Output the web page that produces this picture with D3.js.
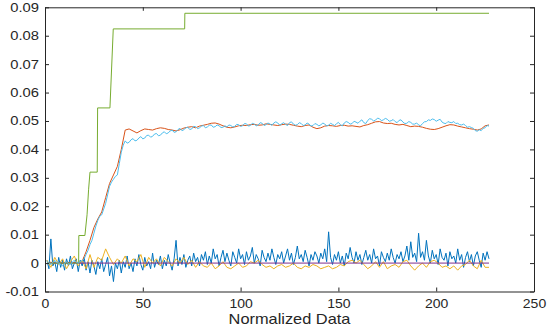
<!DOCTYPE html>
<html>
<head>
<meta charset="utf-8">
<script src="https://cdn.jsdelivr.net/npm/d3@7"></script>
<style>
  body { margin: 0; background: #fff; }
  svg { display: block; }
  text { font-family: "Liberation Sans", Arial, sans-serif; fill: #262626; }
</style>
</head>
<body>
<svg></svg>
<script>
// Values are in thousandths (x 0.001)

// dark blue noisy series, one value per x = 1..227
var blueVals = [
  1, -2, 8.5, -1, 0.5, -3, 2, -1.5, 1, -2.5, 1.5, -1, 2.5, -2, 0, 1.5, -3, 1, -1, 2,
  -2.5, 0.5, -3.5, 1, -1, -4, 0.5, -2, 1.5, -3, -0.5, 2, -4.5, -1, -6.5, 0, -2, 1, -3.5, 0.5,
  -1.5, 2.5, -2, 0, -3, 1.5, -1, 3, -0.5, -2.5, 2, -1, 0.5, -2, 3.5, -1.5, 1, -0.5, 2.5, -2,
  1, -1, 3, 0, -2.5, 1.5, 8, -1, 2, -0.5, 3, -1.5, 1, 2.5, -1, 3.5, 0.5, 2, -1, 3,
  1, 4, -0.5, 2.5, 0, 5, 1.5, 3, -1, 2, 4.5, 0.5, 3.5, 1, -1, 4, 2, 0, 5, 1.5,
  3, -0.5, 4, 1, 2.5, 5.5, 0, 3, 1.5, -1, 4.5, 2, 0.5, 3.5, 1, 5, 2, -0.5, 3, 1.5,
  4, 0, 2.5, 5, 1, 3.5, -0.5, 2, 6, 1.5, 3, 0.5, 4.5, 2, -1, 3, 1, 4, 2.5, 0,
  3.5, 1.5, 5, 0.5, 11, 2, -0.5, 3, 1, 4, 0, 2.5, -1, 3.5, 1.5, 5.5, 2, 0, 4, 1,
  3, -0.5, 2, 4.5, 1, 3, 0, 5, 1.5, 2.5, -1, 4, 2, 0.5, 3.5, 1, 5, 2, 0, 3,
  1.5, 4, 0.5, 2.5, 6, 1, 7.5, 2, 3.5, 0.5, 10.5, 2, 4, 1, 8, 2.5, 0, 4.5, 1.5, 3,
  -0.5, 5, 2, 1, 3.5, -1, 4, 1.5, 2.5, 0, 5, 1, 3, -1.5, 2, 4, 0.5, 3, -1, 2.5,
  4, 1, -1.5, 3.5, 1, 4, 1.5
]

// light blue series, one value per x = 1..227
var cyanVals = [
  0.5, 0, -0.5, 0.3, 1, 0.2, 0, -0.4, -1, 0, 0.5, -0.2, -0.5, 0.4, 1, 0.3, 0, 0.5, 0.8, 1.5,
  3, 4.5, 6.5, 8, 10.5, 13, 15, 16.5, 17, 19, 21, 24, 27, 28.5, 29.5, 30.5, 31, 35, 39, 41.5,
  43, 42.2, 42.5, 43.4, 43.8, 43, 43.2, 44, 44.5, 43.7, 44, 44.9, 45, 44.3, 44.6, 45.4, 45.6, 44.8, 45, 45.8,
  46.2, 45.5, 45.8, 46.5, 46.8, 46, 46.2, 47, 47.4, 46.6, 46.9, 47.6, 47.8, 47, 47.2, 48.1, 48, 47.3, 47.6, 48.2,
  48.4, 47.6, 47.9, 48.5, 48.6, 47.8, 48, 48.6, 48.3, 47.7, 47.8, 48.3, 47.9, 48.6, 48.4, 47.9, 48.1, 48.8, 48.7, 48.1,
  48.3, 49.1, 49, 48.2, 48.4, 49.2, 48.9, 48.3, 48.6, 49.4, 49.2, 48.4, 48.7, 49.3, 48.9, 48.5, 49.3, 49.7, 49.3, 48.5,
  49, 49.4, 48.8, 48.4, 49.4, 49.7, 48.9, 48.5, 48.7, 49.4, 49.1, 48.4, 48.6, 49.3, 48.9, 48.2, 48.4, 49.1, 48.8, 48.3,
  48.6, 49.3, 48.9, 48.3, 48.5, 49.2, 48.8, 48.4, 49, 49.5, 48.7, 48.3, 49.3, 49.8, 49.5, 48.9, 49.1, 49.9, 49.6, 49.2,
  49.9, 50.4, 49.4, 49.1, 50.2, 50.8, 50.6, 50, 50.3, 51, 50.8, 50.1, 50.4, 50.9, 50.6, 49.9, 50.1, 50.5, 49.8, 49.4,
  50.2, 50.4, 49.6, 49.1, 49.2, 49.8, 49.5, 48.9, 48.9, 49.3, 48.6, 48.3, 49.1, 49.7, 49.8, 50.4, 50.2, 50.7, 50.5, 49.9,
  50.3, 50.6, 49.6, 49.2, 49.1, 49.8, 49.5, 49.4, 49.8, 49.1, 49.2, 48.7, 48.6, 48.9, 48.4, 47.8, 48, 47.7, 47.4, 46.6,
  46.4, 46.9, 46.6, 47.4, 47.6, 48.4, 48.2
]

// orange and red series, one value per x = 1, 3, 5 .. 227
var yellowVals = [
  1, -1.5, 2, -0.5, 1.5, -2, 0.5, 2.5, -1, 1,
  -2, 3, -1.5, 2, 1, 5, 2, -0.5, 1.5, 0,
  2.5, -1, 1.5, 0.5, 3, -1.5, 2, 0, 1.5, -1,
  2, 0.5, -1, 1.5, 0, 2, -0.5, 1, -1.5, 0.5,
  -1, -1.5, 0, -2, -1, 0.5, -1.5, -2, -1, 0,
  -1.5, -1, 0.5, 0, 1, -0.5, -1.5, -1, -2, -1,
  -0.5, -1.5, -1, 0, -1.5, -2, -1, -1.5, -0.5, -1,
  -2, -1.5, -1, -2, -1.5, -0.5, -1, 0.5, 1, 0,
  1, -0.5, -2, -1, 0.5, -1.5, 0.5, -2, -1, -0.5,
  -1.5, 0.5, 1, -1, -2.5, -1, 0, -1.5, 0.5, 1,
  0, -1.5, -1, -2, -1, -2.5, -1, -0.5, 1, -1,
  -2, 1, -1.5, -1.5
]

var redVals = [
  0, 0.3, 0, 0.2, -0.2, 0.3, 0, 0.2, 0.1, 0.6,
  4, 8, 12.5, 15.5, 18, 23, 28, 31, 34, 40,
  46.8, 47.2, 46.5, 45.8, 46.6, 47.2, 47, 46.8, 47.3, 47.6,
  47.4, 47, 46.8, 46.5, 46.9, 47.5, 47.8, 48, 47.6, 48.2,
  48.5, 48.8, 49.2, 49.3, 48.9, 48.3, 47.8, 47.6, 47.9, 48.3,
  48.5, 48.4, 48.7, 48.8, 48.5, 48.6, 49, 48.8, 48.6, 48.4,
  48.7, 48.9, 48.8, 48.5, 48.2, 48, 48.4, 48.6, 47.8, 47.3,
  47.6, 48.2, 48.4, 48.3, 48.1, 48.4, 48.5, 48.2, 48.3, 48.1,
  47.9, 48.4, 48.7, 49.2, 49.7, 49.8, 49.3, 49.1, 49.2, 48.8,
  48.6, 48.8, 48.4, 48, 48.2, 48.1, 47.8, 47.4, 47.1, 47,
  47.3, 47.8, 48.3, 48.7, 48.6, 48.2, 47.9, 47.6, 47.3, 47.1,
  46.8, 47.2, 48.3, 48.6
]

// green step series, corner points
var greenX = [1, 17.2, 17.3, 20.4, 21.5, 22.3, 23, 26.7, 26.9, 33.2, 34.9, 71.4, 71.5, 227]
var greenVals = [0, 0, 9.7, 9.7, 17, 26, 32, 32, 54.6, 54.6, 82.4, 82.4, 87.9, 87.9]

// purple zero line
var purpleX = [1, 227]
var purpleVals = [0, 0]

var xTicks = [0, 50, 100, 150, 200, 250]
var yTicks = [-0.01, 0, 0.01, 0.02, 0.03, 0.04, 0.05, 0.06, 0.07, 0.08, 0.09]

var width = 550,
    height = 328

var svg = d3.select("svg")
    .attr("width", width)
    .attr("height", height)

var mLeft = 45, mRight = 534, mTop = 7.3, mBottom = 291.5

var x = d3.scaleLinear().domain([0, 250]).range([mLeft, mRight])
var y = d3.scaleLinear().domain([-0.01, 0.09]).range([mBottom, mTop])

var step1 = d3.range(1, 228)
var step2 = d3.range(1, 228, 2)

function pairs(xv, vals) {
    return vals.map(function(v, i) { return [xv[i], v / 1000] })
}

var line = d3.line()
    .x(function(d) { return x(d[0]) })
    .y(function(d) { return y(d[1]) })

var series = [
    {data: pairs(step1, blueVals), color: "#0072BD"},
    {data: pairs(step2, redVals), color: "#D95319"},
    {data: pairs(step2, yellowVals), color: "#EDB120"},
    {data: pairs(purpleX, purpleVals), color: "#7E2F8E"},
    {data: pairs(greenX, greenVals), color: "#77AC30"},
    {data: pairs(step1, cyanVals), color: "#4DBEEE"}
]

svg.append("g")
    .selectAll("path")
    .data(series)
    .enter()
    .append("path")
    .attr("d", function(d) { return line(d.data) })
    .style("fill", "none")
    .style("stroke", function(d) { return d.color })
    .style("stroke-width", 1)
    .style("stroke-linejoin", "round")

// Axes, ticks pointing inward like matlab
var fmtY = function(d) {
    return d === 0 ? "0" : d3.format(".2f")(d).replace("\u2212", "-")
}

var axisColor = "#262626"

var gL = svg.append("g")
    .attr("transform", "translate(" + mLeft + ",0)")
    .call(d3.axisLeft(y).tickValues(yTicks).tickSize(-4).tickPadding(6)
          .tickFormat(fmtY).tickSizeOuter(0))
var gB = svg.append("g")
    .attr("transform", "translate(0," + mBottom + ")")
    .call(d3.axisBottom(x).tickValues(xTicks).tickSize(-4).tickPadding(8)
          .tickSizeOuter(0))
var gR = svg.append("g")
    .attr("transform", "translate(" + mRight + ",0)")
    .call(d3.axisRight(y).tickValues(yTicks).tickSize(-4).tickFormat("")
          .tickSizeOuter(0))
var gT = svg.append("g")
    .attr("transform", "translate(0," + mTop + ")")
    .call(d3.axisTop(x).tickValues(xTicks).tickSize(-3.5).tickFormat("")
          .tickSizeOuter(0))

svg.selectAll(".domain, .tick line")
    .style("stroke", axisColor)
    .style("stroke-width", 1)

// tick labels are a bit wide in the original
gL.selectAll("text")
    .style("font-size", "12.5px")
    .attr("text-anchor", "end")
    .attr("transform", "translate(-6,0) scale(1.18,1) translate(6,0)")
gB.selectAll("text")
    .style("font-size", "12.5px")
    .attr("transform", "scale(1.12,1)")

svg.selectAll(".tick text").style("fill", axisColor)

// Axis title
svg.append("text")
    .attr("transform", "translate(" + ((mLeft + mRight) / 2) + ",324) scale(1.17,1)")
    .attr("text-anchor", "middle")
    .style("font-size", "14px")
    .text("Normalized Data")
</script>
</body>
</html>
